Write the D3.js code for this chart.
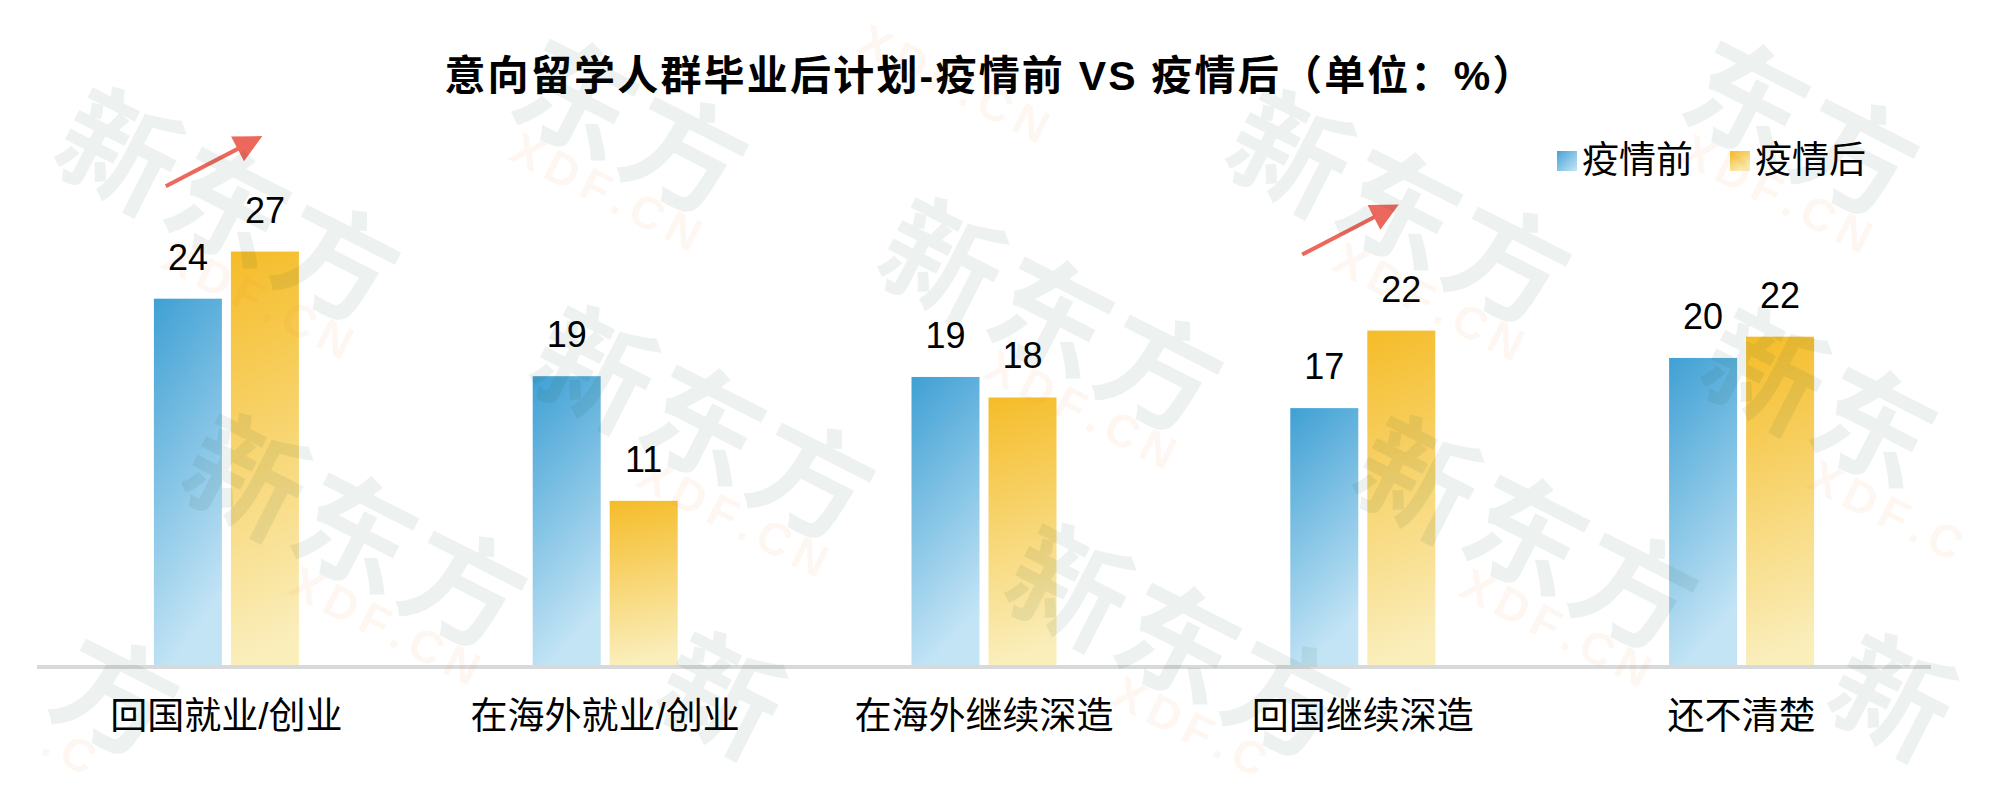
<!DOCTYPE html>
<html>
<head>
<meta charset="utf-8">
<script src="https://cdn.jsdelivr.net/npm/d3@7"></script>
<style>
  body { margin: 0; background: #fff; }
  text { font-family: "Liberation Sans", "Noto Sans CJK SC", sans-serif; }
  .watermark { pointer-events: none; }
</style>
</head>
<body>
<svg id="chart" width="2009" height="794"></svg>
<script>
  // values (labels show them rounded)
  const categories = ["回国就业/创业", "在海外就业/创业", "在海外继续深造", "回国继续深造", "还不清楚"];
  const series = ["疫情前", "疫情后"];
  const before = [24.1, 19.0, 18.95, 16.9, 20.2];
  const after = [27.2, 10.8, 17.6, 22.0, 21.6];
  const arrows = [
    { category: "回国就业/创业", from: 31.5, to: 34.8 },
    { category: "回国继续深造", from: 27.0, to: 30.3 },
  ];
  const title = "意向留学人群毕业后计划-疫情前 VS 疫情后（单位：%）";

  const width = 2009, height = 794;
  const svg = d3.select("#chart");

  const x = d3.scaleBand().domain(categories).range([37, 1931]).padding(0);
  const inner = d3
    .scaleBand()
    .domain(series)
    .range([x.bandwidth() / 2 - 72.5, x.bandwidth() / 2 + 72.5])
    .paddingInner(9 / 77);
  const y = d3.scaleLinear().domain([0, 30]).range([665, 209]);
  const fmt = d3.format(".0f");

  const rows = categories.map((c, i) => ({ category: c, values: [before[i], after[i]] }));

  // gradients
  const defs = svg.append("defs");
  function grad(id, x2, y2, c0, c1) {
    const g = defs
      .append("linearGradient")
      .attr("id", id)
      .attr("x1", 0)
      .attr("y1", 0)
      .attr("x2", x2)
      .attr("y2", y2);
    g.append("stop").attr("offset", "0%").attr("stop-color", c0);
    g.append("stop").attr("offset", "100%").attr("stop-color", c1);
  }
  grad("g-before", 0.25, 1, "#3fa0d4", "#c3e4f5");
  grad("g-after", 0.08, 1, "#f5bc28", "#faeebb");
  grad("l-before", 1, 1, "#45a2d6", "#c6e5f5");
  grad("l-after", 0.6, 1, "#f4bb2a", "#faedb8");
  const fills = { 疫情前: "url(#g-before)", 疫情后: "url(#g-after)" };
  const legendFills = { 疫情前: "url(#l-before)", 疫情后: "url(#l-after)" };

  svg.append("rect").attr("width", width).attr("height", height).attr("fill", "#fff");

  // title
  svg
    .append("text")
    .attr("x", 990)
    .attr("y", 90)
    .attr("text-anchor", "middle")
    .attr("font-size", 41)
    .attr("font-weight", "bold")
    .attr("letter-spacing", 2.2)
    .attr("fill", "#000")
    .text(title);

  // bars
  const group = svg
    .selectAll(".group")
    .data(rows)
    .enter()
    .append("g")
    .attr("class", "group")
    .attr("transform", (d) => `translate(${x(d.category)},0)`);

  const bar = group
    .selectAll(".bar")
    .data((d) => series.map((s, k) => ({ key: s, value: d.values[k] })))
    .enter()
    .append("g")
    .attr("class", "bar");

  bar
    .append("rect")
    .attr("x", (d) => inner(d.key))
    .attr("y", (d) => y(d.value))
    .attr("width", inner.bandwidth())
    .attr("height", (d) => y(0) - y(d.value))
    .attr("fill", (d) => fills[d.key]);

  bar
    .append("text")
    .attr("x", (d) => inner(d.key) + inner.bandwidth() / 2)
    .attr("y", (d) => y(d.value) - 29)
    .attr("text-anchor", "middle")
    .attr("font-size", 36)
    .attr("fill", "#000")
    .text((d) => fmt(d.value));

  // baseline
  svg
    .append("line")
    .attr("x1", x.range()[0])
    .attr("x2", x.range()[1])
    .attr("y1", y(0) + 2)
    .attr("y2", y(0) + 2)
    .attr("stroke", "#d8d9da")
    .attr("stroke-width", 4);

  // category labels
  svg
    .selectAll(".cat")
    .data(categories)
    .enter()
    .append("text")
    .attr("class", "cat")
    .attr("x", (d) => x(d) + x.bandwidth() / 2)
    .attr("y", 729)
    .attr("text-anchor", "middle")
    .attr("font-size", 37)
    .attr("fill", "#000")
    .text((d) => d);

  // legend
  const legendX = [1557, 1730];
  const legend = svg
    .selectAll(".legend")
    .data(series)
    .enter()
    .append("g")
    .attr("class", "legend")
    .attr("transform", (d, i) => `translate(${legendX[i]},151)`);
  legend
    .append("rect")
    .attr("width", 20)
    .attr("height", 20)
    .attr("fill", (d) => legendFills[d]);
  legend
    .append("text")
    .attr("x", 25)
    .attr("y", 22)
    .attr("font-size", 37)
    .attr("fill", "#000")
    .text((d) => d);

  // rising arrows
  const arrowColor = "#ec685c";
  arrows.forEach((a) => {
    const x0 = x(a.category) + 0.34 * x.bandwidth();
    const x1 = x(a.category) + 0.595 * x.bandwidth();
    const y0 = y(a.from);
    const y1 = y(a.to);
    const len = Math.hypot(x1 - x0, y1 - y0);
    const ux = (x1 - x0) / len, uy = (y1 - y0) / len;
    const bx = x1 - 28 * ux, by = y1 - 28 * uy;
    svg
      .append("line")
      .attr("x1", x0)
      .attr("y1", y0)
      .attr("x2", bx + 4 * ux)
      .attr("y2", by + 4 * uy)
      .attr("stroke", arrowColor)
      .attr("stroke-width", 4);
    svg
      .append("path")
      .attr(
        "d",
        `M${x1},${y1}L${bx - 14 * uy},${by + 14 * ux}L${bx + 14 * uy},${by - 14 * ux}Z`,
      )
      .attr("fill", arrowColor);
  });

  // faint 新东方 watermark, one glyph per text so none sits across the edge
  const wm = svg.append("g").attr("class", "watermark");
  const origin = [120, 150], va = [348, -108], vb = [127, 326];
  const angle = 27, rad = (angle * Math.PI) / 180;
  const cos = Math.cos(rad), sin = Math.sin(rad);
  const bigChars = ["新", "东", "方"].map((c, k) => ({ c, u: k * 122, v: 0, size: 118, big: true }));
  const smallW = [0.667, 0.722, 0.611, 0.278, 0.722, 0.722];
  let acc = 88;
  const smallChars = "XDF.CN".split("").map((c, k) => {
    const w = smallW[k] * 46;
    const o = { c, u: acc + w / 2, v: 70, size: 46, big: false };
    acc += w + 7;
    return o;
  });
  const glyphs = bigChars.concat(smallChars);

  for (let i = -4; i <= 8; i++) {
    for (let j = -2; j <= 4; j++) {
      const px = origin[0] + i * va[0] + j * vb[0];
      const py = origin[1] + i * va[1] + j * vb[1];
      glyphs.forEach((g) => {
        const cx = px + g.u * cos - g.v * sin;
        const cy = py + g.u * sin + g.v * cos;
        const r = g.size * 0.5 * (cos + sin) + 2;
        if (cx - r < 0 || cx + r > width || cy - r < 0 || cy + r > height) return;
        wm.append("text")
          .attr("transform", `translate(${cx},${cy}) rotate(${angle})`)
          .attr("text-anchor", "middle")
          .attr("y", g.size * (g.big ? 0.38 : 0.36))
          .attr("font-size", g.size)
          .attr("font-weight", "bold")
          .attr("fill", g.big ? "rgb(30,80,55)" : "rgb(245,120,40)")
          .attr("fill-opacity", g.big ? 0.08 : 0.07)
          .text(g.c);
      });
    }
  }
</script>
</body>
</html>
